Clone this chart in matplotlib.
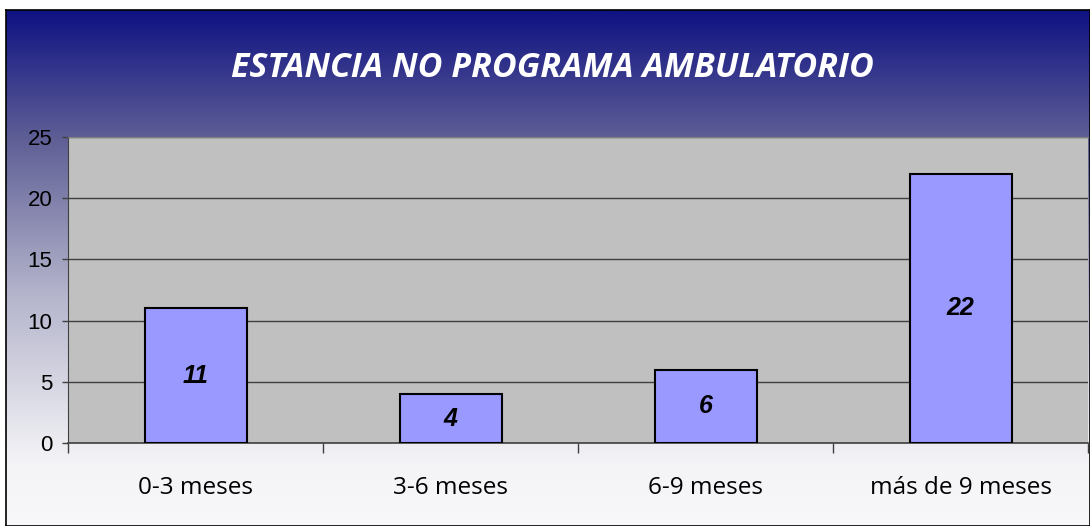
import numpy as np
import matplotlib.pyplot as plt
from matplotlib.colors import LinearSegmentedColormap

categories = ["0-3 meses", "3-6 meses", "6-9 meses", "más de 9 meses"]
values = [11, 4, 6, 22]
yticks = [0, 5, 10, 15, 20, 25]
title = "ESTANCIA NO PROGRAMA AMBULATORIO"

W, H = 1090, 526
fig = plt.figure(figsize=(W / 100, H / 100), dpi=100)
fig.patch.set_facecolor("white")

# gradient background box
bg = fig.add_axes([6 / W, 0, 1 - 6 / W, (H - 10) / H])
cmap = LinearSegmentedColormap.from_list(
    "bg", [(0.0, "#0f1282"), (0.25, "#5f5f96"), (0.55, "#b4b4cc"),
           (0.88, "#f4f4f7"), (1.0, "#f8f8fa")])
grad = np.linspace(0, 1, 256).reshape(-1, 1)
bg.imshow(grad, aspect="auto", cmap=cmap, extent=[0, 1, 1, 0])
bg.set_xticks([])
bg.set_yticks([])
for s in bg.spines.values():
    s.set_color("black")
    s.set_linewidth(1.2)

# plot area
x0, x1, ytop, ybot = 68, 1088, 137, 443
ax = fig.add_axes([x0 / W, 1 - ybot / H, (x1 - x0) / W, (ybot - ytop) / H])
ax.set_facecolor("#c0c0c0")
x = np.arange(len(categories))
bars = ax.bar(x, values, width=0.4, color="#9999ff", edgecolor="black",
              linewidth=1.5, zorder=3)
ax.set_xlim(-0.5, len(categories) - 0.5)
ax.set_ylim(0, 25)
ax.set_yticks(yticks)
ax.set_yticklabels([str(v) for v in yticks], family="Liberation Sans",
                   fontsize=16)
ax.yaxis.grid(True, color="#404040", linewidth=1.0, zorder=1)
ax.set_axisbelow(True)

ax.set_xticks(x)
ax.set_xticklabels(categories, family="Open Sans", fontsize=17.5)
ax.tick_params(axis="x", length=0, pad=24)
ax.set_xticks(np.arange(len(categories) + 1) - 0.5, minor=True)
ax.tick_params(axis="x", which="minor", length=7, width=1, color="#404040")
ax.tick_params(axis="y", length=4.3, width=1, color="#404040", pad=7)

ax.spines["top"].set_color("#808080")
ax.spines["right"].set_visible(False)
ax.spines["left"].set_color("#404040")
ax.spines["bottom"].set_color("#404040")
ax.spines["bottom"].set_linewidth(1.2)

for xi, v in zip(x, values):
    ax.text(xi, v / 2, str(v), ha="center", va="center", fontsize=18,
            fontweight="bold", style="italic", family="Liberation Sans",
            zorder=4)

fig.text(552 / W, 1 - 68 / H, title, ha="center", va="center", color="white",
         fontsize=24.5, fontweight="bold", style="italic", family="Open Sans")

fig.savefig("out.png", dpi=100)
